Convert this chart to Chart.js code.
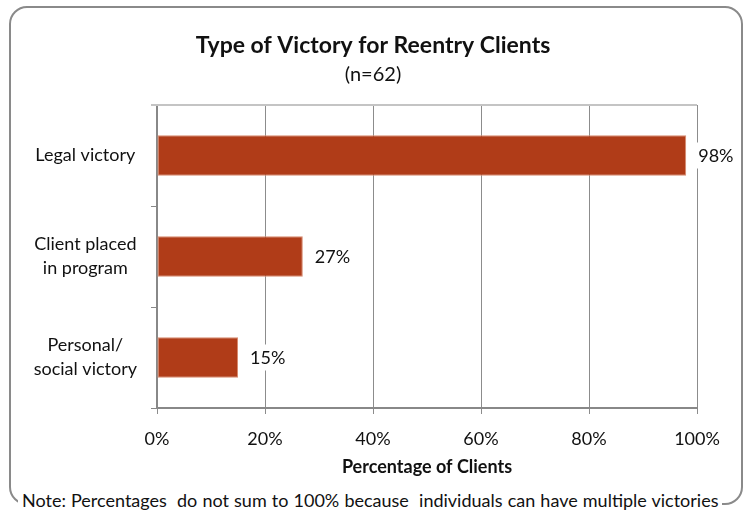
<!DOCTYPE html>
<html>
<head>
<meta charset="utf-8">
<script src="https://cdn.jsdelivr.net/npm/chart.js@4.4.0/dist/chart.umd.min.js"></script>
<style>
    body { margin: 0; background: #fff; }
    #wrap { position: absolute; left: 0; top: 0; width: 746px; height: 510px; }
    #frame {
        position: absolute; left: 9px; top: 6px; width: 734px; height: 499px;
        box-sizing: border-box; border: 2px solid #8a8a8a; border-radius: 18px;
    }
    #chart { position: absolute; left: 0; top: 0; }
    #note {
        position: absolute; left: 18px; top: 489px; padding: 0 4px;
        background: #fff; font-family: Lato, sans-serif; font-size: 18px; color: #111;
        white-space: pre; line-height: 22px; word-spacing: 0.5px;
    }
</style>
</head>
<body>
<div id="wrap">
    <div id="frame"></div>
    <canvas id="chart" width="746" height="510"></canvas>
    <div id="note">Note: Percentages  do not sum to 100% because  individuals can have multiple victories</div>
</div>
<script>
const categories = [['Legal victory'], ['Client placed', 'in program'], ['Personal/', 'social victory']];
const percentValues = [98, 27, 15];
const tickValues = [0, 20, 40, 60, 80, 100];

const fontFamily = 'Lato, sans-serif';

// labels at the end of each bar, on a white box
const barLabels = {
    id: 'barLabels',
    afterDatasetsDraw(chart) {
        const ctx = chart.ctx;
        const meta = chart.getDatasetMeta(0);
        ctx.save();
        ctx.font = '18px ' + fontFamily;
        ctx.textBaseline = 'middle';
        meta.data.forEach((bar, i) => {
            const text = percentValues[i] + '%';
            const w = ctx.measureText(text).width;
            const x = bar.x + 12;
            ctx.fillStyle = '#fff';
            ctx.fillRect(x - 2, bar.y - 13, w + 4, 26);
            ctx.fillStyle = '#111';
            ctx.fillText(text, x, bar.y + 1);
        });
        ctx.restore();
    }
};

// light line along the top of the plot area
const topLine = {
    id: 'topLine',
    beforeDatasetsDraw(chart) {
        const {ctx, chartArea} = chart;
        ctx.save();
        ctx.strokeStyle = '#c4c4c4';
        ctx.lineWidth = 2;
        ctx.beginPath();
        ctx.moveTo(chartArea.left - 6, chartArea.top);
        ctx.lineTo(chartArea.right, chartArea.top);
        ctx.stroke();
        ctx.restore();
    }
};

new Chart(document.getElementById('chart'), {
    type: 'bar',
    data: {
        labels: categories,
        datasets: [{
            label: 'Percentage of Clients',
            data: percentValues,
            backgroundColor: '#b03c18',
            borderColor: '#d88a6e',
            borderWidth: 1,
            borderSkipped: false,
            barPercentage: 0.4,
            categoryPercentage: 1
        }]
    },
    options: {
        indexAxis: 'y',
        responsive: false,
        animation: false,
        layout: {padding: {left: 20, right: 20, top: 20, bottom: 32}},
        plugins: {
            legend: {display: false},
            tooltip: {enabled: false},
            title: {
                display: true,
                text: 'Type of Victory for Reentry Clients',
                color: '#111',
                font: {family: fontFamily, size: 23, weight: 'bold', lineHeight: 1.2},
                padding: {top: 12, bottom: 0}
            },
            subtitle: {
                display: true,
                text: '(n=62)',
                color: '#111',
                font: {family: fontFamily, size: 20, lineHeight: 1.2},
                padding: {top: 3.4, bottom: 18}
            }
        },
        scales: {
            x: {
                min: 0,
                max: 100,
                afterBuildTicks: (s) => { s.ticks = tickValues.map(v => ({value: v})); },
                ticks: {
                    callback: (v) => v + '%',
                    color: '#111',
                    padding: 14,
                    font: {family: fontFamily, size: 18}
                },
                grid: {color: '#8c8c8c', lineWidth: 1, tickLength: 6},
                border: {color: '#888', width: 2},
                title: {
                    display: true,
                    text: 'Percentage of Clients',
                    color: '#111',
                    font: {family: fontFamily, size: 18, weight: 'bold', lineHeight: 1.2},
                    padding: 0
                },
                afterFit: (s) => { s.height = 70; }
            },
            y: {
                ticks: {
                    color: '#111',
                    crossAlign: 'center',
                    padding: 14,
                    font: {family: fontFamily, size: 18, lineHeight: 1.35}
                },
                grid: {drawOnChartArea: false, color: '#888', tickLength: 6},
                border: {color: '#888', width: 2},
                afterFit: (s) => { s.width = 137; }
            },
            yRight: {
                position: 'right',
                type: 'linear',
                display: true,
                ticks: {display: false},
                grid: {display: false},
                border: {display: false},
                afterFit: (s) => { s.width = 29; }
            }
        }
    },
    plugins: [barLabels, topLine]
});
</script>
</body>
</html>
